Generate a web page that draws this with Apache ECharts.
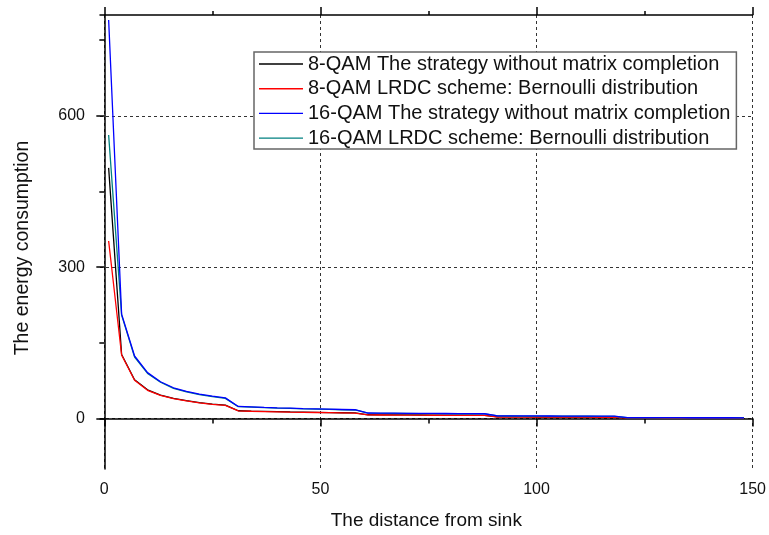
<!DOCTYPE html>
<html>
<head>
<meta charset="utf-8">
<script src="https://cdn.jsdelivr.net/npm/echarts@6/dist/echarts.min.js"></script>
<style>
html,body{margin:0;padding:0;background:#fff;}
#chart{width:769px;height:535px;}
</style>
</head>
<body>
<div id="chart"></div>
<script>
// ---- data ----
const distances = [1,4,7,10,13,16,19,22,25,28,31,34,37,40,43,46,49,52,55,58,61,64,67,70,73,76,79,82,85,88,91,94,97,100,103,106,109,112,115,118,121,124,127,130,133,136,139,142,145,148];

const noMC8 = [497,127,77,57,46.5,40,35.5,31.5,28.5,26.5, 15.5,14.8,14.2,13.6,13.1,12.7,12.3,11.9,11.5,11.2, 7.5,7.3,7.2,7.1,7,6.9,6.8,6.7,6.6,6.5, 3.3,3.2,3.2,3.1,3.1,3,3,3,2.9,2.9, 0.9,0.9,0.9,0.8,0.8,0.8,0.8,0.8,0.7,0.7];
const lrdc8 = [352,126,76,56,46,39.5,35,31,28,26, 15.2,14.5,13.9,13.3,12.8,12.4,12,11.6,11.2,10.9, 7.2,7,6.9,6.8,6.7,6.6,6.5,6.4,6.3,6.2, 3,2.9,2.9,2.8,2.8,2.7,2.7,2.7,2.6,2.6, 0.7,0.7,0.7,0.6,0.6,0.6,0.6,0.6,0.5,0.5];
const noMC16 = [790,207,124,91,73,61,54,48.5,44.5,41, 24,23,22,21.2,20.5,19.8,19.2,18.6,18,17.5, 11,10.8,10.6,10.4,10.2,10.1,10,9.8,9.6,9.5, 5.5,5.4,5.3,5.2,5.1,5,5,4.9,4.8,4.8, 1.8,1.8,1.7,1.7,1.7,1.6,1.6,1.6,1.6,1.5];
const lrdc16 = [562,205,122,89.5,72,60,53,47.5,43.5,40, 23.5,22.5,21.5,20.7,20,19.3,18.7,18.1,17.5,17, 10.6,10.4,10.2,10,9.8,9.7,9.6,9.4,9.2,9.1, 5.2,5.1,5,4.9,4.8,4.7,4.7,4.6,4.5,4.5, 1.6,1.6,1.5,1.5,1.5,1.4,1.4,1.4,1.4,1.3];

const seriesNames = [
  '8-QAM The strategy without matrix completion',
  '8-QAM LRDC scheme: Bernoulli distribution',
  '16-QAM The strategy without matrix completion',
  '16-QAM LRDC scheme: Bernoulli distribution'
];
const xMajorTicks = [0, 50, 100, 150];
const xMinorTicks = [25, 75, 125];
const yMajorTicks = [0, 300, 600];
const yMinorTicks = [150, 450, 750];
const xTitle = 'The distance from sink';
const yTitle = 'The energy consumption';

// ---- chart ----
const FONT = "'Liberation Sans', Arial, Helvetica, sans-serif";
const X_MIN = -1, X_MAX = 150, Y_MIN = -100, Y_MAX = 800;
const gridDash = {type: [3, 3], color: '#333', width: 1};

function pairs(vals) { return distances.map((d, i) => [d, vals[i]]); }

const chart = echarts.init(document.getElementById('chart'), null, {renderer: 'canvas'});

const baseX = {type: 'value', min: X_MIN, max: X_MAX, gridIndex: 0};
const baseY = {type: 'value', min: Y_MIN, max: Y_MAX, gridIndex: 0};

chart.setOption({
  animation: false,
  backgroundColor: '#fff',
  grid: {left: 100, right: 12, top: 15, bottom: 65, containLabel: false},
  xAxis: [
    Object.assign({}, baseX, {
      position: 'bottom',
      name: xTitle, nameLocation: 'middle', nameGap: 42,
      nameTextStyle: {fontFamily: FONT, fontSize: 19, color: '#111'},
      axisLine: {show: true, lineStyle: {color: '#000', width: 1.5}},
      axisTick: {show: true, inside: false, length: 8, customValues: xMajorTicks, lineStyle: {color: '#000', width: 1.5}},
      axisLabel: {show: true, customValues: xMajorTicks, margin: 13, fontFamily: FONT, fontSize: 16, color: '#111'},
      splitLine: {show: true, lineStyle: gridDash}
    }),
    Object.assign({}, baseX, {
      position: 'bottom',
      axisLine: {show: false},
      axisTick: {show: true, inside: false, length: 5, customValues: xMinorTicks, lineStyle: {color: '#000', width: 1.5}},
      axisLabel: {show: false},
      splitLine: {show: false}
    }),
    Object.assign({}, baseX, {
      position: 'top',
      axisLine: {show: true, lineStyle: {color: '#000', width: 1.5}},
      axisTick: {show: true, inside: false, length: 8, customValues: xMajorTicks, lineStyle: {color: '#000', width: 1.5}},
      axisLabel: {show: false},
      splitLine: {show: false}
    }),
    Object.assign({}, baseX, {
      position: 'top',
      axisLine: {show: false},
      axisTick: {show: true, inside: false, length: 4, customValues: xMinorTicks, lineStyle: {color: '#000', width: 1.5}},
      axisLabel: {show: false},
      splitLine: {show: false}
    })
  ],
  yAxis: [
    Object.assign({}, baseY, {
      position: 'left',
      name: yTitle, nameLocation: 'middle', nameGap: 67, nameRotate: 90,
      nameTextStyle: {fontFamily: FONT, fontSize: 19.5, color: '#111', padding: [0, 12, 0, 0]},
      axisLine: {show: true, lineStyle: {color: '#000', width: 1.5}},
      axisTick: {show: true, inside: false, length: 8, customValues: yMajorTicks, lineStyle: {color: '#000', width: 1.5}},
      axisLabel: {show: true, customValues: yMajorTicks, margin: 15, fontFamily: FONT, fontSize: 16, color: '#111'},
      splitLine: {show: true, lineStyle: gridDash}
    }),
    Object.assign({}, baseY, {
      position: 'left',
      axisLine: {show: false},
      axisTick: {show: true, inside: false, length: 5, customValues: yMinorTicks, lineStyle: {color: '#000', width: 1.5}},
      axisLabel: {show: false},
      splitLine: {show: false}
    })
  ],
  legend: {
    orient: 'vertical',
    left: 254, top: 52,
    padding: [2, 6, 1, 5],
    icon: 'rect',
    itemWidth: 44, itemHeight: 1.4, itemGap: 4.7,
    backgroundColor: '#fff',
    borderColor: '#666', borderWidth: 1.5,
    textStyle: {fontFamily: FONT, fontSize: 20, color: '#111', lineHeight: 20},
    data: seriesNames
  },
  series: [
    {name: seriesNames[0], data: pairs(noMC8), color: '#000000'},
    {name: seriesNames[1], data: pairs(lrdc8), color: '#ff0000'},
    {name: seriesNames[3], data: pairs(lrdc16), color: '#008080'},
    {name: seriesNames[2], data: pairs(noMC16), color: '#0000ff'}
  ].map(s => Object.assign({
    type: 'line', xAxisIndex: 0, yAxisIndex: 0,
    symbol: 'none', showSymbol: false, smooth: false,
    lineStyle: {width: 1.3, color: s.color},
    itemStyle: {color: s.color},
    emphasis: {disabled: true}
  }, s))
});
</script>
</body>
</html>
